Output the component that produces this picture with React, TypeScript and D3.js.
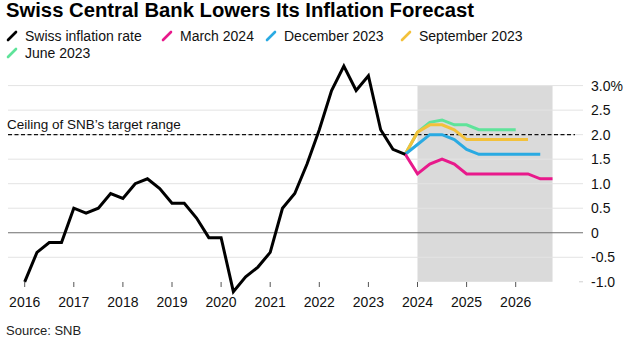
import React from 'react';
import * as d3 from 'd3';

const W = 629;
const H = 343;

const titleText = 'Swiss Central Bank Lowers Its Inflation Forecast';
const sourceText = 'Source: SNB';
const ceilingLabel = "Ceiling of SNB\u2019s target range";
const ceilingValue = 2.0;

const xTickYears = [2016, 2017, 2018, 2019, 2020, 2021, 2022, 2023, 2024, 2025, 2026];
const yTickValues = [3.0, 2.5, 2.0, 1.5, 1.0, 0.5, 0, -0.5, -1.0];
const yTickLabels = ['3.0%', '2.5', '2.0', '1.5', '1.0', '0.5', '0', '-0.5', '-1.0'];

const forecastPeriodStart = '2024-Q1';
const forecastPeriodEnd = '2026-Q4';

const inflationPeriods = [
  '2016-Q1', '2016-Q2', '2016-Q3', '2016-Q4',
  '2017-Q1', '2017-Q2', '2017-Q3', '2017-Q4',
  '2018-Q1', '2018-Q2', '2018-Q3', '2018-Q4',
  '2019-Q1', '2019-Q2', '2019-Q3', '2019-Q4',
  '2020-Q1', '2020-Q2', '2020-Q3', '2020-Q4',
  '2021-Q1', '2021-Q2', '2021-Q3', '2021-Q4',
  '2022-Q1', '2022-Q2', '2022-Q3', '2022-Q4',
  '2023-Q1', '2023-Q2', '2023-Q3', '2023-Q4',
];
const inflationValues = [
  -1.0, -0.4, -0.2, -0.2,
  0.5, 0.4, 0.5, 0.8,
  0.7, 1.0, 1.1, 0.9,
  0.6, 0.6, 0.3, -0.1,
  -0.1, -1.2, -0.9, -0.7,
  -0.4, 0.5, 0.8, 1.4,
  2.1, 2.9, 3.4, 2.9,
  3.2, 2.1, 1.7, 1.6,
];

const march2024Periods = ['2023-Q4', '2024-Q1', '2024-Q2', '2024-Q3', '2024-Q4', '2025-Q1', '2025-Q2', '2025-Q3', '2025-Q4', '2026-Q1', '2026-Q2', '2026-Q3', '2026-Q4'];
const march2024Values = [1.6, 1.2, 1.4, 1.5, 1.4, 1.2, 1.2, 1.2, 1.2, 1.2, 1.2, 1.1, 1.1];

const december2023Periods = ['2023-Q4', '2024-Q1', '2024-Q2', '2024-Q3', '2024-Q4', '2025-Q1', '2025-Q2', '2025-Q3', '2025-Q4', '2026-Q1', '2026-Q2', '2026-Q3'];
const december2023Values = [1.6, 1.8, 2.0, 2.0, 1.9, 1.7, 1.6, 1.6, 1.6, 1.6, 1.6, 1.6];

const september2023Periods = ['2023-Q4', '2024-Q1', '2024-Q2', '2024-Q3', '2024-Q4', '2025-Q1', '2025-Q2', '2025-Q3', '2025-Q4', '2026-Q1', '2026-Q2'];
const september2023Values = [1.6, 2.05, 2.2, 2.2, 2.1, 1.9, 1.9, 1.9, 1.9, 1.9, 1.9];

const june2023Periods = ['2023-Q4', '2024-Q1', '2024-Q2', '2024-Q3', '2024-Q4', '2025-Q1', '2025-Q2', '2025-Q3', '2025-Q4', '2026-Q1'];
const june2023Values = [1.6, 2.05, 2.25, 2.3, 2.2, 2.2, 2.1, 2.1, 2.1, 2.1];

const seriesNames = ['Swiss inflation rate', 'March 2024', 'December 2023', 'September 2023', 'June 2023'];
const seriesColors = ['#000000', '#e8198b', '#2aaae2', '#f3c13a', '#5fe39a'];

const toYear = (p: string) => {
  const [y, q] = p.split('-Q');
  return +y + (+q - 1) * 0.25;
};

const FONT = "'Liberation Sans', Arial, Helvetica, sans-serif";

export default function App() {
  const x = d3.scaleLinear().domain([2016, 2026]).range([24.7, 515.7]);
  const y = d3.scaleLinear().domain([-1, 3]).range([281.8, 85.6]);

  const line = d3
    .line<[number, number]>()
    .x((d) => x(d[0]))
    .y((d) => y(d[1]))
    .curve(d3.curveLinear);

  const mk = (periods: string[], values: number[]) =>
    periods.map((p, i) => [toYear(p), values[i]] as [number, number]);

  const series = [
    { data: mk(inflationPeriods, inflationValues), color: seriesColors[0] },
    { data: mk(march2024Periods, march2024Values), color: seriesColors[1] },
    { data: mk(december2023Periods, december2023Values), color: seriesColors[2] },
    { data: mk(september2023Periods, september2023Values), color: seriesColors[3] },
    { data: mk(june2023Periods, june2023Values), color: seriesColors[4] },
  ];
  const drawOrder = [4, 3, 2, 1, 0];

  const gridLeft = 8;
  const gridRight = 583;
  const shadeX0 = x(toYear(forecastPeriodStart) - 0.0);
  const shadeX1 = x(toYear(forecastPeriodEnd));

  const legendRows = [
    [
      { i: 0, x: 7 },
      { i: 1, x: 162 },
      { i: 2, x: 266 },
      { i: 3, x: 401 },
    ],
    [{ i: 4, x: 7 }],
  ];
  const legendBaselines = [41, 58];

  return (
    <svg
      width={W}
      height={H}
      viewBox={`0 0 ${W} ${H}`}
      style={{ position: 'absolute', left: 0, top: 0, background: '#fff' }}
      fontFamily={FONT}
    >
      <rect x={0} y={0} width={W} height={H} fill="#fff" />
      <text x={6} y={17} fontSize={20} fontWeight="bold" fill="#000" textLength={468} lengthAdjust="spacingAndGlyphs">
        {titleText}
      </text>

      {legendRows.map((row, r) =>
        row.map((item) => (
          <g key={`lg-${r}-${item.i}`}>
            <line
              x1={item.x + 1}
              y1={legendBaselines[r] - 1}
              x2={item.x + 9}
              y2={legendBaselines[r] - 9}
              stroke={seriesColors[item.i]}
              strokeWidth={2.6}
              strokeLinecap="round"
            />
            <text x={item.x + 18} y={legendBaselines[r]} fontSize={14} fill="#111">
              {seriesNames[item.i]}
            </text>
          </g>
        ))
      )}

      <rect x={shadeX0} y={y(3)} width={shadeX1 - shadeX0} height={y(-1) - y(3)} fill="#dadada" />

      {yTickValues.map((v, i) =>
        v === -1 ? (
          <line key={`g${i}`} x1={gridRight - 4} x2={gridRight} y1={y(v)} y2={y(v)} stroke="#cfcfcf" strokeWidth={1} />
        ) : (
          <line
            key={`g${i}`}
            x1={gridLeft}
            x2={gridRight}
            y1={y(v)}
            y2={y(v)}
            stroke={v === 0 ? '#6e6e6e' : '#e3e3e3'}
            strokeWidth={1}
          />
        )
      )}

      {yTickValues.map((v, i) => (
        <text key={`yl${i}`} x={591} y={y(v) + 5} fontSize={14} fill="#111">
          {yTickLabels[i]}
        </text>
      ))}

      {xTickYears.map((yr) => (
        <g key={`xt${yr}`}>
          <line x1={x(yr)} x2={x(yr)} y1={282} y2={287} stroke="#555" strokeWidth={1} />
          <text x={x(yr)} y={306.5} fontSize={14} textAnchor="middle" fill="#111">
            {yr}
          </text>
        </g>
      ))}

      <line
        x1={gridLeft}
        x2={575}
        y1={y(ceilingValue)}
        y2={y(ceilingValue)}
        stroke="#111"
        strokeWidth={1.4}
        strokeDasharray="4,2.5"
      />
      <text x={7} y={128.5} fontSize={13.5} fill="#111">
        {ceilingLabel}
      </text>

      {drawOrder.map((i) => (
        <path
          key={`s${i}`}
          d={line(series[i].data) || ''}
          fill="none"
          stroke={series[i].color}
          strokeWidth={3}
          strokeLinejoin="miter"
          strokeLinecap="butt"
        />
      ))}

      <text x={6} y={335} fontSize={13} fill="#222">
        {sourceText}
      </text>
    </svg>
  );
}
